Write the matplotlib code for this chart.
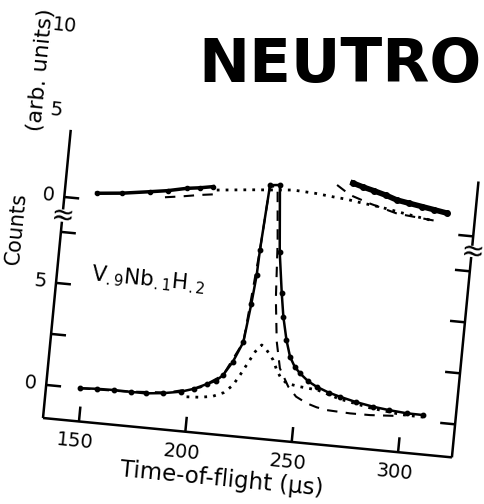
import matplotlib.pyplot as plt
from matplotlib.transforms import Affine2D

plt.rcParams['font.family'] = 'DejaVu Sans'

# lower section, counts vs time-of-flight (us)
main_t = [149, 157, 165, 173, 180, 188, 196, 202, 208, 212, 215, 219, 223, 225, 226.2, 226.6,
          228.4, 233.0, 235.9, 238.7, 240.5, 243, 245.4, 248, 250.8, 255, 259.1, 265, 270.5,
          278, 286.4, 294, 302.3, 310.1]
main_c = [0.0, 0.05, 0.07, 0.06, 0.06, 0.15, 0.3, 0.5, 0.8, 1.0, 1.3, 2.0, 3.0, 4.9, 6.3, 7.55,
          10.75, 10.8, 7.55, 5.55, 4.42, 3.3, 2.51, 2.05, 1.75, 1.4, 1.18, 0.95, 0.8,
          0.62, 0.47, 0.38, 0.31, 0.3]

fit_t = [149, 170, 190, 205, 215, 223, 226.6, 228.4, 232, 234.5, 236.2, 238.5, 241.2, 245.9,
         250, 255.2, 260, 264.9, 275.9, 285.3, 300]
fit_c = [0.0, 0.05, 0.2, 0.6, 1.3, 3.0, 7.55, 10.7, 10.7, 8.0, 5.26, 3.2, 1.9, 1.05,
         0.6, 0.33, 0.18, 0.09, 0.04, 0.05, 0.15]

dot_t = [199, 205, 211, 216, 220, 223, 226, 229, 231.7, 234.2, 236, 237.7, 239.8, 242, 245,
         251.4, 259.8, 270, 285, 300, 310]
dot_c = [0.08, 0.12, 0.22, 0.45, 0.85, 1.4, 2.0, 2.6, 2.95, 2.73, 2.5, 2.27, 1.8, 1.45, 1.2,
         1.1, 1.02, 0.7, 0.4, 0.22, 0.2]

# upper section (arb. units)
up_left_t = [148, 160, 172.8, 181, 189.7, 196, 202]
up_left_v = [0.4, 0.55, 0.79, 0.95, 1.19, 1.3, 1.44]
up_right_t = [266.9, 272, 277, 283, 288.1, 294, 300, 306, 311.9]
up_right_v = [2.43, 2.25, 2.1, 1.9, 1.69, 1.57, 1.45, 1.33, 1.21]
up_fit_left_t = [180, 188, 196.2, 203]
up_fit_left_v = [0.55, 0.7, 0.88, 1.0]
up_fit_right_t = [259.6, 266.1, 275.8, 288.8, 301.1, 309.2]
up_fit_right_v = [2.23, 1.72, 1.33, 0.9, 0.76, 0.67]
up_dot_t = [203.8, 211.5, 220, 230, 239.3, 250, 258, 264.8, 272, 280.6, 292, 304.5]
up_dot_v = [1.26, 1.36, 1.47, 1.58, 1.69, 1.62, 1.52, 1.45, 1.32, 1.19, 0.95, 0.71]

x_ticks = [150, 200, 250, 300]
low_ticks = [0, 2.5, 5, 7.5]
low_labels = {0: '0', 5: '5'}
up_labels = [0, 5, 10]

# broken axis: upper section sits on top of the lower one
up_zero = 9.21
up_step = 0.834


def up(v):
    return [up_zero + up_step * x for x in v]


t_min, t_max = 133.1, 325.3
c_min, c_top = -1.62, 12.5

fig = plt.figure(figsize=(4.85, 5.04), dpi=100)
ax = fig.add_axes([43 / 485, 86 / 504, 410.8 / 485, (c_top - c_min) * 20.5 / 504])
ax.set_xlim(t_min, t_max)
ax.set_ylim(c_min, c_top)
ax.axis('off')

# the whole panel is printed slightly tilted
pivot = ax.transAxes.transform((0, 0))
tr = ax.transData + Affine2D().rotate_deg_around(pivot[0], pivot[1], -5.5)
tilt = -5.5

kw = dict(transform=tr, clip_on=False, color='black')
axis_kw = dict(kw, lw=1.8, solid_capstyle='butt')

# frame
ax.plot([t_min, t_max], [c_min, c_min], **axis_kw)
ax.plot([t_min, t_min], [c_min, 8.0], **axis_kw)
ax.plot([t_min, t_min], [8.6, c_top], **axis_kw)
ax.plot([t_max, t_max], [c_min, 8.2], **axis_kw)
ax.plot([t_max, t_max], [8.75, 11.9], **axis_kw)

tick_x = 7.0
tick_y = 0.73
for t in x_ticks:
    ax.plot([t, t], [c_min, c_min + tick_y], **axis_kw)
    ax.text(t - 1, c_min - 1.0, str(t), fontsize=14, ha='center', va='center',
            rotation=tilt, **kw)
for c in low_ticks + [up_zero]:
    ax.plot([t_min, t_min + tick_x], [c, c], **axis_kw)
    ax.plot([t_max, t_max - tick_x], [c, c], **axis_kw)
for c, s in low_labels.items():
    ax.text(t_min - 7.5, c, s, fontsize=14, ha='center', va='center', rotation=tilt, **kw)
for v in up_labels:
    ax.text(t_min - 7.5, up([v])[0], str(v), fontsize=14, ha='center', va='center',
            rotation=tilt, **kw)

# axis break marks
ax.text(t_min, 8.3, '\u2248', fontsize=20, ha='center', va='center', rotation=tilt, **kw)
ax.text(t_max, 8.47, '\u2248', fontsize=20, ha='center', va='center', rotation=tilt, **kw)

# lower curves
ax.plot(dot_t, dot_c, ls=(0, (1, 2.2)), lw=2, **kw)
ax.plot(fit_t, fit_c, ls=(0, (5, 4)), lw=1.5, **kw)
ax.plot(main_t, main_c, lw=1.8, marker='o', ms=3.2, **kw)

# upper curves
ax.plot(up_dot_t, up(up_dot_v), ls=(0, (1, 2.2)), lw=2, **kw)
ax.plot(up_fit_left_t, up(up_fit_left_v), ls=(0, (5, 4)), lw=1.5, **kw)
ax.plot(up_fit_right_t, up(up_fit_right_v), ls=(0, (5, 4)), lw=1.5, **kw)
ax.plot(up_left_t, up(up_left_v), lw=2.5, marker='o', ms=3, **kw)
ax.plot(up_right_t, up(up_right_v), lw=4, marker='o', ms=4, **kw)

# labels
ax.text(219, -3.75, 'Time-of-flight (\u00b5s)', fontsize=16.5, ha='center', va='center',
        rotation=tilt, **kw)
ax.text(112.4, 7.48, 'Counts', fontsize=15, ha='center', va='center',
        rotation=90 + tilt, **kw)
ax.text(116.4, 15.3, '(arb. units)', fontsize=16, ha='center', va='center',
        rotation=90 + tilt, **kw)
ax.text(175.8, 5.57, r'V$_{.9}$Nb$_{.1}$H$_{.2}$', fontsize=15.5, ha='center', va='center',
        rotation=tilt, **kw)

fig.text(198 / 485, 1 - 82 / 504, 'NEUTRO', fontsize=44, fontweight='heavy',
         ha='left', va='baseline')

fig.savefig('out.png', dpi=100)
